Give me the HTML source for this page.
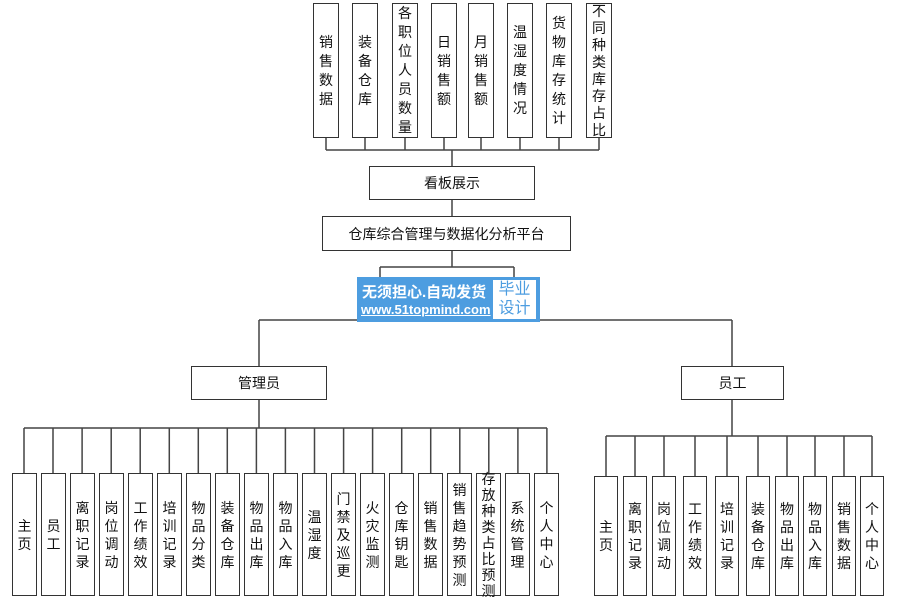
<!DOCTYPE html>
<html><head><meta charset="utf-8"><style>
body{margin:0;width:899px;height:599px;background:#fff;position:relative;overflow:hidden;font-family:"Liberation Sans","Noto Sans CJK SC",sans-serif;color:#111}
.b{position:absolute;box-sizing:border-box;border:1.5px solid #333;background:#fff;display:flex;align-items:center;justify-content:center;font-size:14px}
.v{width:15px;line-height:18px;word-break:break-all;text-align:center;font-size:14px}
svg{position:absolute;left:0;top:0}
</style></head><body>
<svg width="899" height="599">
<g stroke="#444" stroke-width="1.5" fill="none">
<path d="M326 138V150M365 138V150M405 138V150M444 138V150M481 138V150M520 138V150M559 138V150M599 138V150M326 150H599M452 150V166"/>
<path d="M452 200V216M452 251V267M380 267H514M380 267V280M514 267V280"/>
<path d="M259 320H732M259 320V366M732 320V366"/>
<path d="M259 400V428M24 428H547M732 400V436M606 436H872"/>
<path id="lv"/>
</g>
</svg>
<div id="c"></div>
<div class="b" style="left:369px;top:166px;width:166px;height:34px">看板展示</div>
<div class="b" style="left:322px;top:216px;width:249px;height:35px">仓库综合管理与数据化分析平台</div>
<div class="b" style="left:191px;top:366px;width:136px;height:34px">管理员</div>
<div class="b" style="left:681px;top:366px;width:103px;height:34px">员工</div>
<div style="position:absolute;left:357px;top:277px;width:183px;height:45px;background:#4d9de0"></div>
<div style="position:absolute;left:362px;top:281px;color:#fff;font-size:15px;font-weight:bold;white-space:nowrap">无须担心.自动发货</div>
<div style="position:absolute;left:361px;top:302px;color:#fff;font-size:13px;font-weight:bold;text-decoration:underline;white-space:nowrap">www.51topmind.com</div>
<div style="position:absolute;left:493px;top:280px;width:43px;height:39px;background:#fff;color:#4d9de0;font-size:16px;line-height:19px;text-align:center">毕业<br>设计</div>
<script>
(function(){
var c=document.getElementById('c'),h='';
function box(x,y,w,hh,t,lh){h+='<div class="b" style="left:'+x+'px;top:'+y+'px;width:'+w+'px;height:'+hh+'px"><div class="v" style="line-height:'+(lh||18)+'px">'+t+'</div></div>';}
var tp=[[313,'销售数据'],[352,'装备仓库'],[392,'各职位人员数量'],[431,'日销售额'],[468,'月销售额'],[507,'温湿度情况'],[546,'货物库存统计'],[586,'不同种类库存占比']];
tp.forEach(function(a){box(a[0],3,26,135,a[1],a[1].length>7?17:19);});
var L=['主页','员工','离职记录','岗位调动','工作绩效','培训记录','物品分类','装备仓库','物品出库','物品入库','温湿度','门禁及巡更','火灾监测','仓库钥匙','销售数据','销售趋势预测','存放种类占比预测','系统管理','个人中心'];
var s='';
L.forEach(function(t,i){var cx=24+i*29.05;box(Math.round(cx-12.5),473,25,123,t,t.length>7?16:18);s+='M'+cx.toFixed(1)+' 428V473';});
var R=[[594,'主页'],[623,'离职记录'],[652,'岗位调动'],[683,'工作绩效'],[715,'培训记录'],[746,'装备仓库'],[775,'物品出库'],[803,'物品入库'],[832,'销售数据'],[860,'个人中心']];
R.forEach(function(a){box(a[0],476,24,120,a[1]);s+='M'+(a[0]+12)+' 436V476';});
document.getElementById('lv').setAttribute('d',s);
c.innerHTML=h;
})();
</script>
</body></html>
